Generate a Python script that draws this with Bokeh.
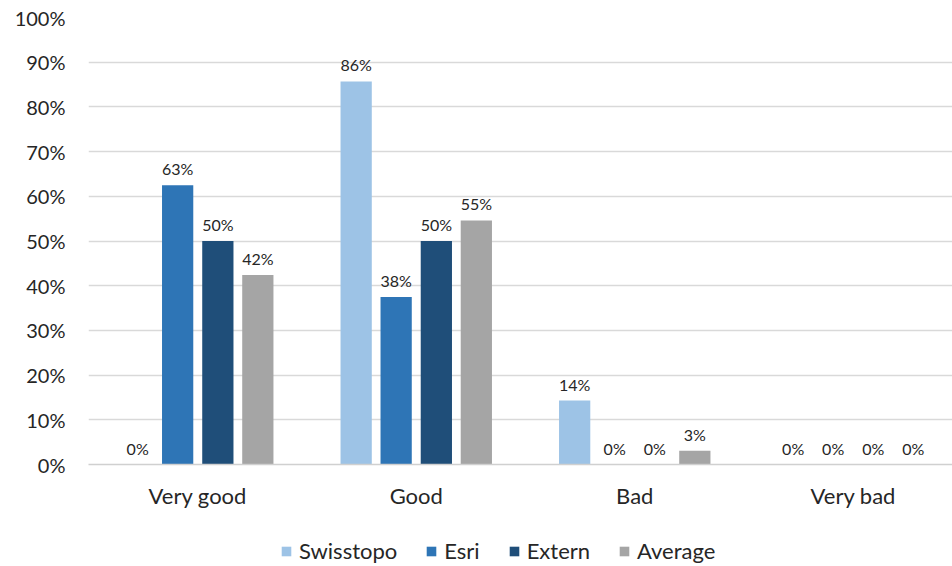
from bokeh.plotting import figure
from bokeh.layouts import column
from bokeh.models import ColumnDataSource, Legend, LegendItem, FixedTicker
from bokeh.transform import dodge
from bokeh.core.properties import value
from bokeh.embed import file_html
from bokeh.resources import INLINE

categories = ["Very good", "Good", "Bad", "Very bad"]
series = ["Swisstopo", "Esri", "Extern", "Average"]
swisstopo = [0.0, 85.7, 14.3, 0.0]
esri = [62.5, 37.5, 0.0, 0.0]
extern = [50.0, 50.0, 0.0, 0.0]
average = [42.4, 54.6, 3.1, 0.0]
colors = ["#9DC3E6", "#2E75B6", "#1F4E79", "#A5A5A5"]
y_ticks = list(range(0, 101, 10))

cat_pos = [i + 0.5 for i in range(len(categories))]
data = dict(pos=cat_pos, Swisstopo=swisstopo, Esri=esri, Extern=extern, Average=average)
for s in series:
    data[s + "_lbl"] = ["%d%%" % int(v + 0.5) for v in data[s]]
src = ColumnDataSource(data)

FONT = "Lato"
TXT = "#262626"
# the reference chart is cropped slightly on the right
p = figure(width=952, height=536, x_range=(0, len(categories) * 864 / 874), y_range=(0, 100),
           output_backend="svg", toolbar_location=None,
           min_border_left=88, min_border_right=0, min_border_top=17, min_border_bottom=72)
p.outline_line_color = None

offsets = [-0.275, -0.092, 0.092, 0.275]
for s, off, c in zip(series, offsets, colors):
    p.vbar(x=dodge("pos", off), top=s, width=0.143, source=src,
           fill_color=c, line_color=None)
    p.text(x=dodge("pos", off), y=s, text=s + "_lbl", source=src,
           text_align="center", text_baseline="bottom", y_offset=-7,
           text_font=value(FONT), text_font_size="16px", text_color=TXT)

p.yaxis.ticker = y_ticks
p.yaxis.major_label_overrides = {t: "%d%%" % t for t in y_ticks}
p.yaxis.axis_line_color = None
p.yaxis.major_tick_line_color = None
p.yaxis.minor_tick_line_color = None
p.yaxis.major_label_text_font = FONT
p.yaxis.major_label_text_font_size = "20px"
p.yaxis.major_label_text_color = TXT
p.yaxis.major_label_standoff = 17

p.xaxis.ticker = FixedTicker(ticks=cat_pos)
p.xaxis.major_label_overrides = {pos: c for pos, c in zip(cat_pos, categories)}
p.xaxis.axis_line_color = "#D0D0D0"
p.xaxis.axis_line_width = 1.5
p.xaxis.major_tick_line_color = None
p.xaxis.minor_tick_line_color = None
p.xaxis.major_label_text_font = FONT
p.xaxis.major_label_text_font_size = "22px"
p.xaxis.major_label_text_color = TXT
p.xaxis.major_label_standoff = 11

p.xgrid.grid_line_color = None
p.ygrid.grid_line_color = "#D9D9D9"
p.ygrid.grid_line_width = 1.5

# legend strip below the chart
lg = figure(width=952, height=30, x_range=(0, 1), y_range=(0, 1),
            output_backend="svg", toolbar_location=None,
            x_axis_type=None, y_axis_type=None,
            min_border_left=0, min_border_right=0, min_border_top=0, min_border_bottom=0)
lg.outline_line_color = None
lg.xgrid.grid_line_color = None
lg.ygrid.grid_line_color = None
items = []
for s, c in zip(series, colors):
    r = lg.vbar(x=[0.5], top=[-50], bottom=[-60], width=0.1, fill_color=c, line_color=None)
    items.append(LegendItem(label=s, renderers=[r]))
legend = Legend(items=items, orientation="horizontal", location=(192, 2),
                label_text_font=FONT, label_text_font_size="22px", label_text_color=TXT,
                glyph_width=12, glyph_height=12, spacing=28, label_standoff=7,
                border_line_color=None, background_fill_alpha=0, padding=0, margin=0)
lg.add_layout(legend, "center")

open("out.html", "w").write(file_html(column(p, lg, spacing=0), INLINE))
